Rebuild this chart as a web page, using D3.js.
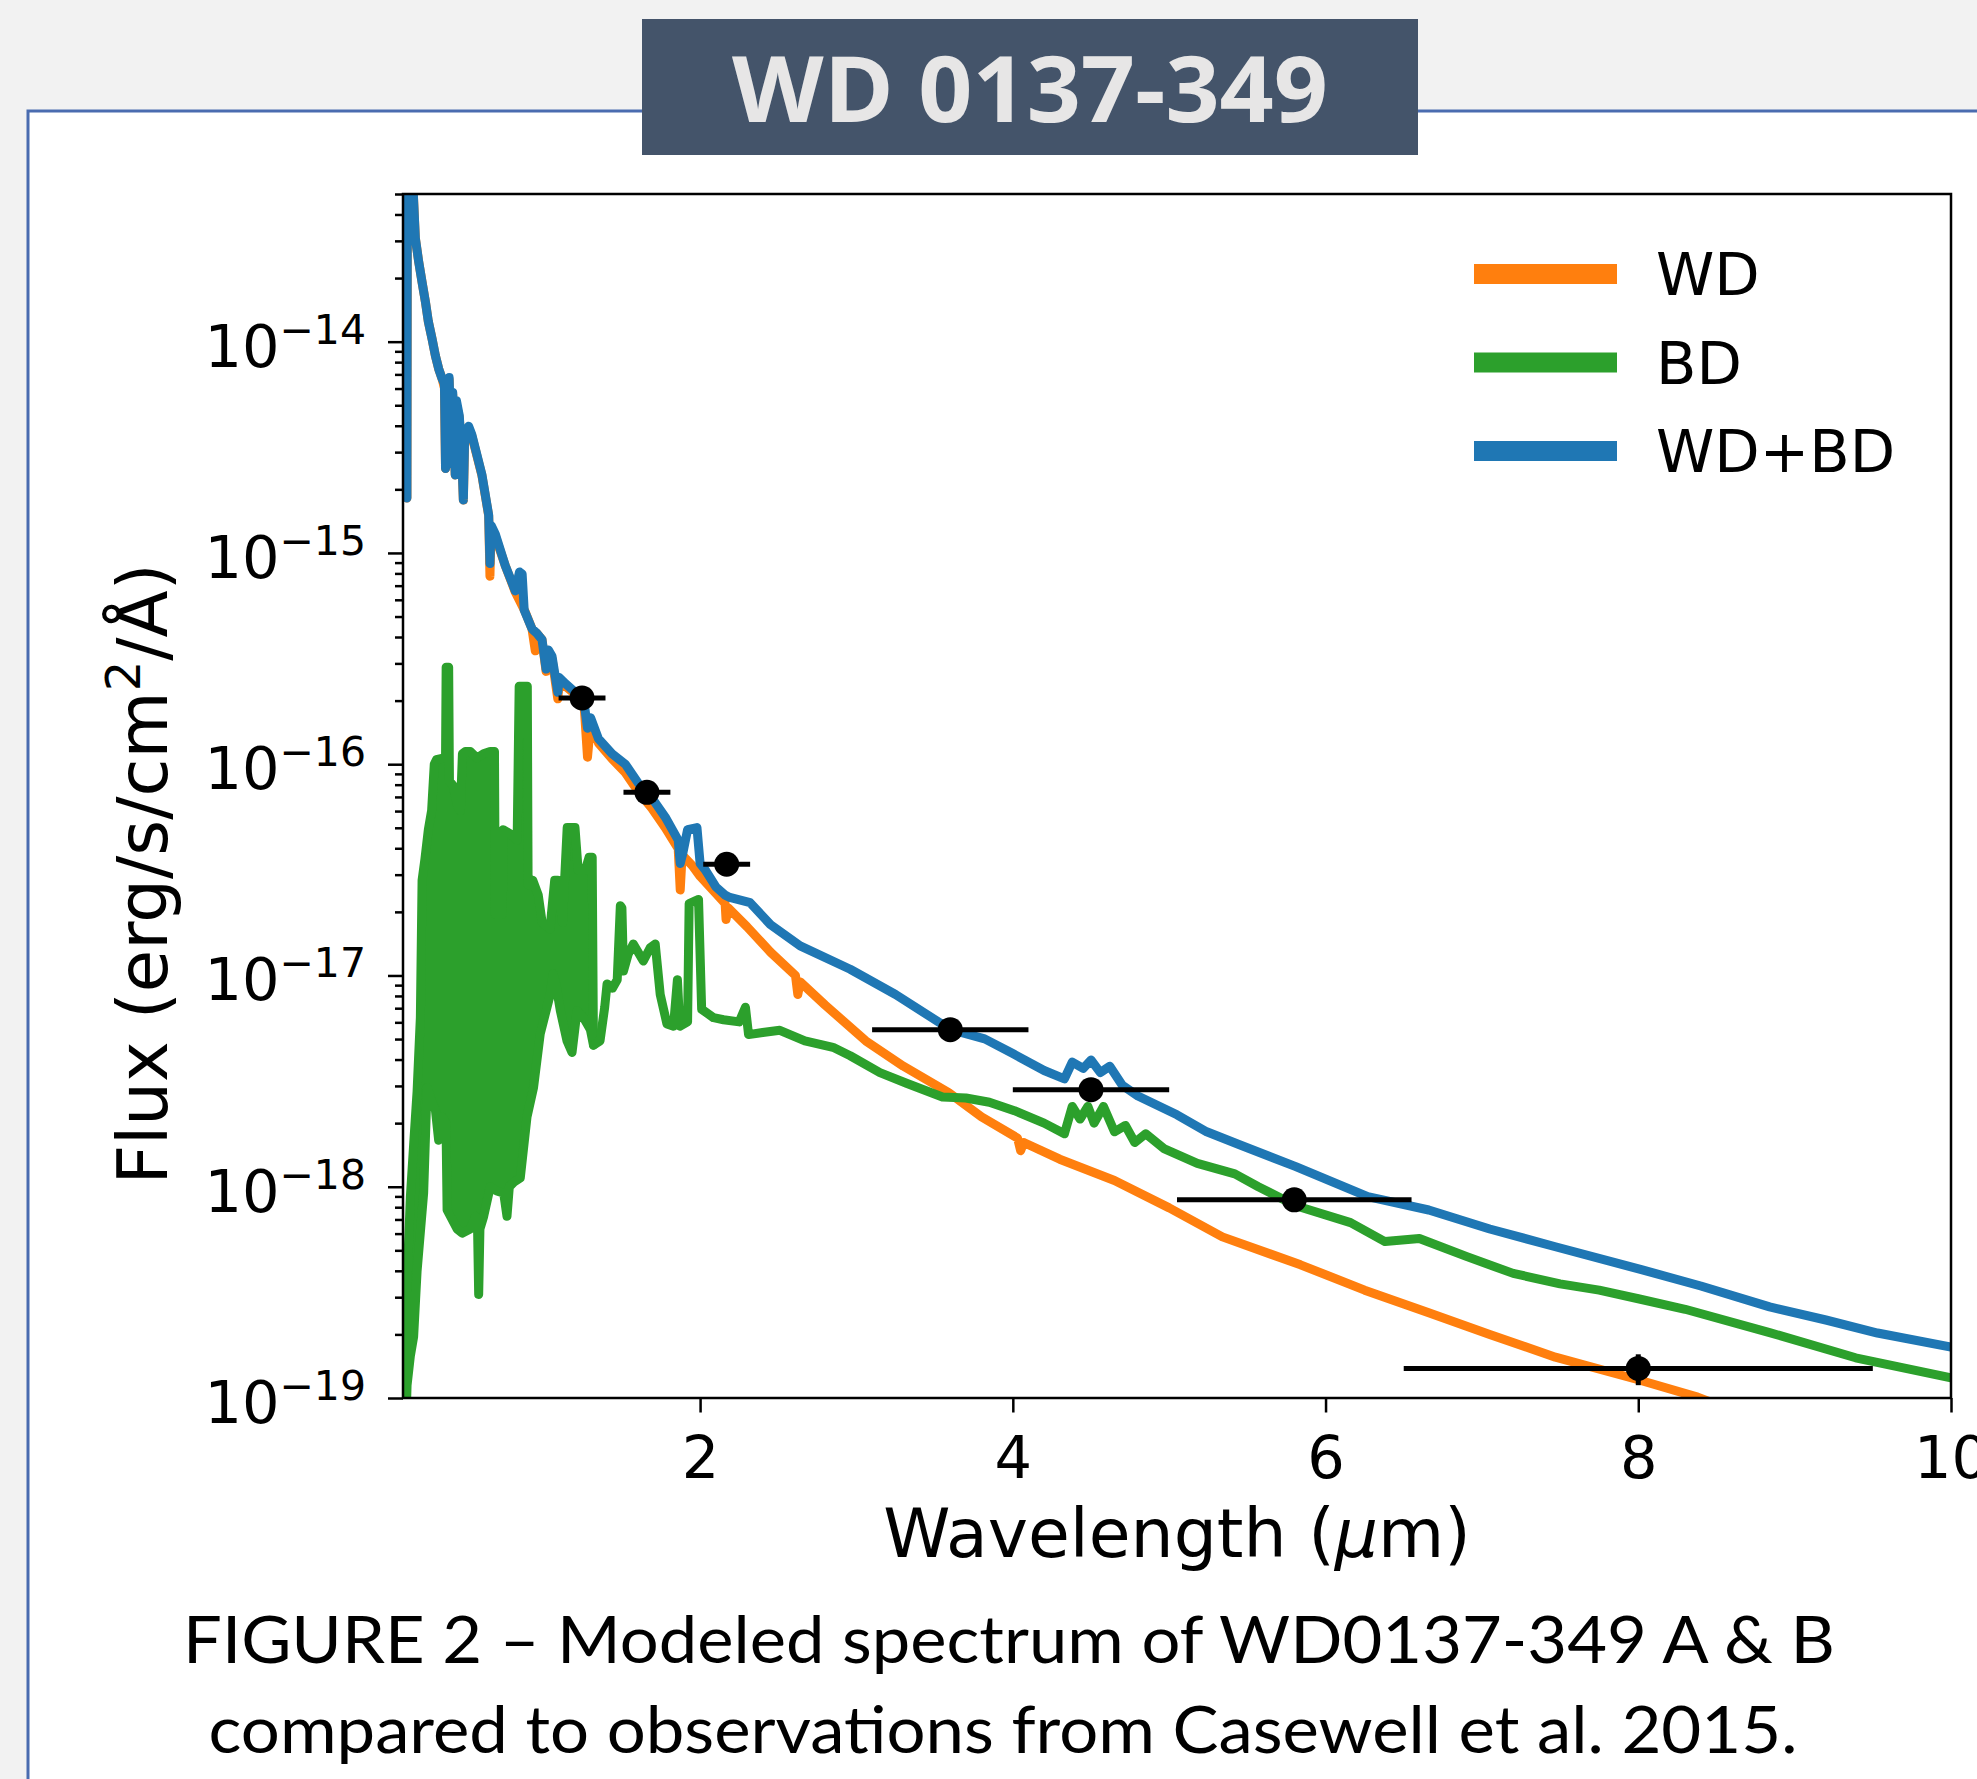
<!DOCTYPE html>
<html><head><meta charset="utf-8">
<script src="https://cdn.jsdelivr.net/npm/d3@7"></script>
<style>body{margin:0;background:#f2f2f2;overflow:hidden}svg{display:block}</style>
</head><body>
<svg id="chart" width="1977" height="1779"></svg>
<script>
// ---------------- data (wavelength in micron, flux in erg/s/cm2/A) ----------------
const wdWave = [0.125,0.128,0.15,0.166,0.179,0.2,0.222,0.243,0.262,0.286,0.307,0.328,0.35,0.365,0.372,0.38,0.388,0.395,0.41,0.418,0.434,0.442,0.46,0.476,0.486,0.495,0.52,0.54,0.605,0.648,0.656,0.664,0.69,0.754,0.818,0.882,0.925,0.946,0.955,0.989,1.015,1.03,1.053,1.09,1.1,1.14,1.202,1.26,1.28,1.3,1.35,1.437,1.522,1.605,1.692,1.777,1.86,1.873,1.885,1.95,2.0,2.1,2.16,2.166,2.18,2.3,2.45,2.61,2.625,2.64,2.8,3.06,3.3,3.59,3.8,4.03,4.05,4.07,4.3,4.65,5.0,5.34,5.84,6.25,6.66,7.05,7.47,8.0,8.38,8.5];
const wdFlux = [1.82e-15,1e-13,1e-13,5e-14,3.09e-14,2.40e-14,1.91e-14,1.55e-14,1.245e-14,1.03e-14,8.59e-15,7.45e-15,6.68e-15,6.03e-15,2.51e-15,6.31e-15,2.63e-15,6.61e-15,2.82e-15,5.62e-15,2.34e-15,5.01e-15,4.37e-15,2.82e-15,1.78e-15,3.55e-15,3.89e-15,3.59e-15,2.32e-15,1.50e-15,7.76e-16,1.32e-15,1.20e-15,8.71e-16,6.53e-16,5.25e-16,4.37e-16,3.44e-16,4.17e-16,3.89e-16,2.75e-16,3.39e-16,3.16e-16,2.04e-16,2.51e-16,2.34e-16,2.14e-16,1.82e-16,1.08e-16,1.58e-16,1.26e-16,1.06e-16,9.12e-17,7.41e-17,6.17e-17,5.01e-17,3.98e-17,2.54e-17,3.72e-17,3.31e-17,2.95e-17,2.45e-17,2.19e-17,1.84e-17,2.09e-17,1.70e-17,1.29e-17,1.0e-17,8.13e-18,9.33e-18,7.24e-18,4.90e-18,3.72e-18,2.79e-18,2.14e-18,1.70e-18,1.48e-18,1.62e-18,1.35e-18,1.07e-18,7.94e-19,5.79e-19,4.27e-19,3.24e-19,2.53e-19,2.0e-19,1.56e-19,1.22e-19,1.01e-19,9.33e-20];

// BD spectrum: dense, unresolved part (upper / lower envelope) and resolved part
const bdUpperWave = [0.112,0.126,0.147,0.168,0.19,0.211,0.222,0.24,0.262,0.283,0.3,0.314,0.357,0.372,0.376,0.392,0.397,0.42,0.45,0.467,0.48,0.499,0.53,0.573,0.615,0.658,0.685,0.69,0.735,0.74,0.786,0.83,0.843,0.895,0.9,0.93,0.965,0.99,1.04,1.07,1.09,1.12,1.15,1.2,1.22,1.266,1.29,1.31,1.318];
const bdUpperFlux = [5.01e-20,3.55e-19,8.91e-19,1.58e-18,2.82e-18,6.31e-18,2.82e-17,3.55e-17,4.90e-17,6.03e-17,1.0e-16,1.05e-16,1.07e-16,1.07e-16,2.88e-16,2.88e-16,8.32e-17,7.94e-17,6.31e-17,6.03e-17,1.12e-16,1.15e-16,1.15e-16,1.07e-16,1.12e-16,1.15e-16,1.15e-16,1.95e-17,1.95e-17,4.90e-17,4.68e-17,4.37e-17,2.34e-16,2.34e-16,2.69e-17,2.82e-17,2.40e-17,1.78e-17,1.66e-17,2.82e-17,2.82e-17,1.78e-17,5.01e-17,5.01e-17,3.16e-17,3.16e-17,3.63e-17,3.63e-17,4.68e-18];
const bdLowerWave = [0.112,0.126,0.147,0.168,0.19,0.232,0.254,0.285,0.307,0.328,0.35,0.375,0.382,0.446,0.478,0.53,0.563,0.577,0.584,0.592,0.616,0.658,0.7,0.744,0.765,0.78,0.808,0.85,0.893,0.935,0.978,1.042,1.06,1.08,1.106,1.149,1.181,1.213,1.255,1.298,1.318];
const bdLowerFlux = [5.01e-20,1.15e-19,1.58e-19,1.95e-19,3.98e-19,9.33e-19,2.95e-18,2.51e-18,2.32e-18,1.66e-18,2.14e-18,2.0e-18,7.76e-19,6.31e-19,6.03e-19,6.31e-19,7.24e-19,6.31e-19,3.09e-19,6.31e-19,7.24e-19,1.0e-18,9.55e-19,9.33e-19,7.24e-19,1.0e-18,1.05e-18,1.10e-18,2.14e-18,2.95e-18,5.31e-18,8.13e-18,1.02e-17,8.91e-18,6.82e-18,4.90e-18,4.32e-18,6.82e-18,6.31e-18,5.55e-18,4.68e-18];
const bdWave = [1.318,1.36,1.39,1.405,1.44,1.47,1.49,1.5,1.51,1.54,1.573,1.637,1.68,1.713,1.745,1.788,1.83,1.855,1.87,1.92,1.93,1.99,2.01,2.086,2.15,2.25,2.29,2.31,2.4,2.51,2.67,2.85,2.96,3.15,3.32,3.55,3.7,3.85,4.01,4.2,4.33,4.38,4.43,4.48,4.52,4.58,4.65,4.72,4.78,4.85,4.97,5.18,5.42,5.57,5.81,6.16,6.38,6.6,6.9,7.2,7.5,7.75,8.0,8.3,8.84,9.39,10.0];
const bdFlux = [4.68e-18,4.90e-18,7.08e-18,9.12e-18,8.71e-18,9.55e-18,2.14e-17,2.09e-17,1.05e-17,1.26e-17,1.41e-17,1.17e-17,1.35e-17,1.41e-17,8.13e-18,5.89e-18,5.75e-18,9.55e-18,5.75e-18,6.03e-18,2.19e-17,2.29e-17,6.92e-18,6.31e-18,6.17e-18,6.03e-18,7.08e-18,5.25e-18,5.37e-18,5.50e-18,4.90e-18,4.57e-18,4.17e-18,3.47e-18,3.09e-18,2.66e-18,2.63e-18,2.51e-18,2.29e-18,2.0e-18,1.78e-18,2.40e-18,2.09e-18,2.40e-18,2.0e-18,2.40e-18,1.82e-18,1.95e-18,1.62e-18,1.78e-18,1.51e-18,1.29e-18,1.15e-18,1.0e-18,8.13e-19,6.76e-19,5.50e-19,5.69e-19,4.68e-19,3.89e-19,3.47e-19,3.24e-19,2.95e-19,2.63e-19,2.04e-19,1.55e-19,1.245e-19];

const sumWave = [0.125,0.128,0.15,0.166,0.179,0.2,0.222,0.243,0.262,0.286,0.307,0.328,0.35,0.365,0.372,0.38,0.388,0.395,0.41,0.418,0.434,0.442,0.46,0.476,0.486,0.495,0.52,0.54,0.605,0.648,0.656,0.664,0.69,0.754,0.818,0.845,0.862,0.875,0.925,0.955,0.989,1.015,1.03,1.053,1.09,1.1,1.141,1.202,1.26,1.28,1.3,1.35,1.437,1.522,1.605,1.692,1.777,1.86,1.873,1.89,1.92,1.98,2.0,2.033,2.1,2.16,2.19,2.32,2.45,2.64,2.96,3.25,3.6,3.82,4.0,4.2,4.33,4.38,4.45,4.5,4.56,4.62,4.7,4.8,5.05,5.24,5.45,5.81,6.27,6.66,7.05,7.47,8.02,8.4,8.84,9.2,9.53,10.0];
const sumFlux = [1.82e-15,1e-13,1e-13,5e-14,3.09e-14,2.40e-14,1.91e-14,1.55e-14,1.245e-14,1.03e-14,8.59e-15,7.45e-15,6.68e-15,6.31e-15,2.51e-15,6.61e-15,2.63e-15,6.76e-15,2.82e-15,5.75e-15,2.34e-15,5.25e-15,4.47e-15,2.82e-15,1.78e-15,3.72e-15,3.98e-15,3.63e-15,2.34e-15,1.51e-15,8.91e-16,1.35e-15,1.23e-15,8.71e-16,6.61e-16,8.13e-16,7.94e-16,5.37e-16,4.37e-16,4.17e-16,3.89e-16,2.82e-16,3.47e-16,3.24e-16,2.19e-16,2.57e-16,2.40e-16,2.19e-16,1.91e-16,1.48e-16,1.66e-16,1.32e-16,1.12e-16,1.0e-16,8.13e-17,6.92e-17,5.62e-17,4.37e-17,3.39e-17,3.80e-17,4.90e-17,5.01e-17,3.39e-17,3.16e-17,2.63e-17,2.40e-17,2.34e-17,2.21e-17,1.74e-17,1.38e-17,1.07e-17,8.13e-18,5.55e-18,5.01e-18,4.27e-18,3.55e-18,3.24e-18,3.89e-18,3.63e-18,3.98e-18,3.47e-18,3.72e-18,3.02e-18,2.69e-18,2.19e-18,1.82e-18,1.58e-18,1.245e-18,8.97e-19,7.76e-19,6.31e-19,5.20e-19,4.05e-19,3.39e-19,2.70e-19,2.34e-19,2.03e-19,1.74e-19];

// photometry (Casewell et al. 2015)
const obsWave = [1.245,1.66,2.17,3.6,4.5,5.8,8.0];
const obsFlux = [2.06e-16,7.36e-17,3.36e-17,5.54e-18,2.88e-18,8.67e-19,1.38e-19];
const obsWaveErr = [0.15,0.15,0.15,0.5,0.5,0.75,1.5];
const obsFluxErr = [0,0,0,0,0,0,0.23e-19];

const legendLabels = ['WD','BD','WD+BD'];
const xTicks = [2,4,6,8,10];
const yDecades = [-19,-18,-17,-16,-15,-14];
const titleText = 'WD 0137-349';
const captionLines = ['FIGURE 2 \u2013 Modeled spectrum of WD0137-349 A & B','compared to observations from Casewell et al. 2015.'];

// ---------------- drawing ----------------
const W = 1977, H = 1779;
const svg = d3.select('#chart');
const colors = {wd:'#ff7f0e', bd:'#2ca02c', sum:'#1f77b4'};
const F = 'DejaVu Sans';

svg.append('rect').attr('width',W).attr('height',H).attr('fill','#f2f2f2');
svg.append('rect').attr('x',28).attr('y',111).attr('width',2100).attr('height',1900)
  .attr('fill','#ffffff').attr('stroke','#4a6cb0').attr('stroke-width',3);

const m = {l:403, r:1951, t:194, b:1398};
const x = d3.scaleLinear().domain([0.1,10]).range([m.l,m.r]);
const y = d3.scaleLog().domain([1e-19,5e-14]).range([m.b,m.t]);

svg.append('defs').append('clipPath').attr('id','plotclip')
  .append('rect').attr('x',m.l).attr('y',m.t).attr('width',m.r-m.l).attr('height',m.b-m.t);

const pts = (w,f) => w.map((v,i)=>[v,f[i]]);
const line = d3.line().x(d=>x(d[0])).y(d=>y(d[1]));
const g = svg.append('g').attr('clip-path','url(#plotclip)');
const LW = 9;

g.append('path').attr('d',line(pts(wdWave,wdFlux))).attr('fill','none')
  .attr('stroke',colors.wd).attr('stroke-width',LW).attr('stroke-linejoin','round').attr('stroke-linecap','round');

const band = pts(bdUpperWave,bdUpperFlux).concat(pts(bdLowerWave,bdLowerFlux).reverse());
g.append('path').attr('d',line(band)+'Z').attr('fill',colors.bd)
  .attr('stroke',colors.bd).attr('stroke-width',LW).attr('stroke-linejoin','round');
g.append('path').attr('d',line(pts(bdWave,bdFlux))).attr('fill','none')
  .attr('stroke',colors.bd).attr('stroke-width',LW).attr('stroke-linejoin','round').attr('stroke-linecap','round');

g.append('path').attr('d',line(pts(sumWave,sumFlux))).attr('fill','none')
  .attr('stroke',colors.sum).attr('stroke-width',LW).attr('stroke-linejoin','round').attr('stroke-linecap','round');

// error bars + markers
const eb = g.append('g');
obsWave.forEach((w,i)=>{
  const f = obsFlux[i];
  eb.append('line').attr('x1',x(w-obsWaveErr[i])).attr('x2',x(w+obsWaveErr[i]))
    .attr('y1',y(f)).attr('y2',y(f)).attr('stroke','#000').attr('stroke-width',5);
  if (obsFluxErr[i]>0) {
    eb.append('line').attr('x1',x(w)).attr('x2',x(w))
      .attr('y1',y(f-obsFluxErr[i])).attr('y2',y(f+obsFluxErr[i])).attr('stroke','#000').attr('stroke-width',5);
  }
  eb.append('circle').attr('cx',x(w)).attr('cy',y(f)).attr('r',12.5).attr('fill','#000');
});

// axes
const xAxis = svg.append('g').attr('transform',`translate(0,${m.b})`)
  .call(d3.axisBottom(x).tickValues(xTicks).tickSize(14.5).tickFormat(d3.format('d')));
xAxis.select('.domain').remove();
xAxis.selectAll('.tick line').attr('stroke','#000').attr('stroke-width',2.5);
xAxis.selectAll('.tick text').attr('y',80).attr('dy',0).attr('font-family',F).attr('font-size',59).attr('fill','#000');

const yMajor = yDecades.map(e=>Math.pow(10,e));
const yMinor = [];
yDecades.forEach(e=>{ [2,3,4,5,6,7,8,9].forEach(k=>{ const v = k*Math.pow(10,e); if (v<=5e-14) yMinor.push(v); }); });
const yAxMaj = svg.append('g').attr('transform',`translate(${m.l},0)`)
  .call(d3.axisLeft(y).tickValues(yMajor).tickSize(15).tickFormat(''));
const yAxMin = svg.append('g').attr('transform',`translate(${m.l},0)`)
  .call(d3.axisLeft(y).tickValues(yMinor).tickSize(8).tickFormat(''));
[yAxMaj,yAxMin].forEach(a=>{ a.select('.domain').remove(); a.selectAll('.tick line').attr('stroke','#000').attr('stroke-width',2.5); });

yDecades.forEach(e=>{
  const t = svg.append('text').attr('x',366).attr('y',y(Math.pow(10,e))+25)
    .attr('text-anchor','end').attr('font-family',F).attr('fill','#000');
  t.append('tspan').attr('font-size',59).text('10');
  t.append('tspan').attr('font-size',41).attr('dy',-23).text('\u2212'+(-e));
});

// spines
svg.append('rect').attr('x',m.l).attr('y',m.t).attr('width',m.r-m.l).attr('height',m.b-m.t)
  .attr('fill','none').attr('stroke','#000').attr('stroke-width',2.5);

// axis labels
const xl = svg.append('text').attr('x',(m.l+m.r)/2).attr('y',1557).attr('text-anchor','middle')
  .attr('font-family',F).attr('font-size',68).attr('fill','#000');
xl.append('tspan').text('Wavelength (');
xl.append('tspan').attr('font-style','italic').text('\u03bc');
xl.append('tspan').text('m)');

const yl = svg.append('text').attr('transform','translate(167,874) rotate(-90)').attr('text-anchor','middle')
  .attr('font-family',F).attr('font-size',69).attr('fill','#000');
yl.append('tspan').text('Flux (erg/s/cm');
yl.append('tspan').attr('font-size',48).attr('dy',-27).text('2');
yl.append('tspan').attr('dy',27).text('/\u00c5)');

// legend
const legColors = [colors.wd, colors.bd, colors.sum];
legendLabels.forEach((lab,i)=>{
  const cy = 274 + i*88.5;
  svg.append('line').attr('x1',1474).attr('x2',1617).attr('y1',cy).attr('y2',cy)
    .attr('stroke',legColors[i]).attr('stroke-width',20);
  svg.append('text').attr('x',1656).attr('y',cy+21).attr('font-family',F).attr('font-size',59).attr('fill','#000').text(lab);
});

// title box
svg.append('rect').attr('x',642).attr('y',19).attr('width',776).attr('height',136).attr('fill','#44546a');
function fit(sel, cx, target){
  const w = sel.node().getComputedTextLength();
  const s = target / w;
  sel.attr('transform',`translate(${cx},0) scale(${s},1) translate(${-cx},0)`);
}
const tt = svg.append('text').attr('x',1030).attr('y',122).attr('text-anchor','middle')
  .attr('font-family','Open Sans').attr('font-weight',700).attr('font-size',92).attr('fill','#e7e6e6').text(titleText);
fit(tt,1030,596);

// caption
const capY = [1663,1753], capW = [1652,1589], capX = [1009,1003];
captionLines.forEach((c,i)=>{
  const t = svg.append('text').attr('x',capX[i]).attr('y',capY[i]).attr('text-anchor','middle')
    .attr('font-family','Lato').attr('font-size',66).attr('fill','#000').text(c);
  fit(t,capX[i],capW[i]);
});
</script>
</body></html>
